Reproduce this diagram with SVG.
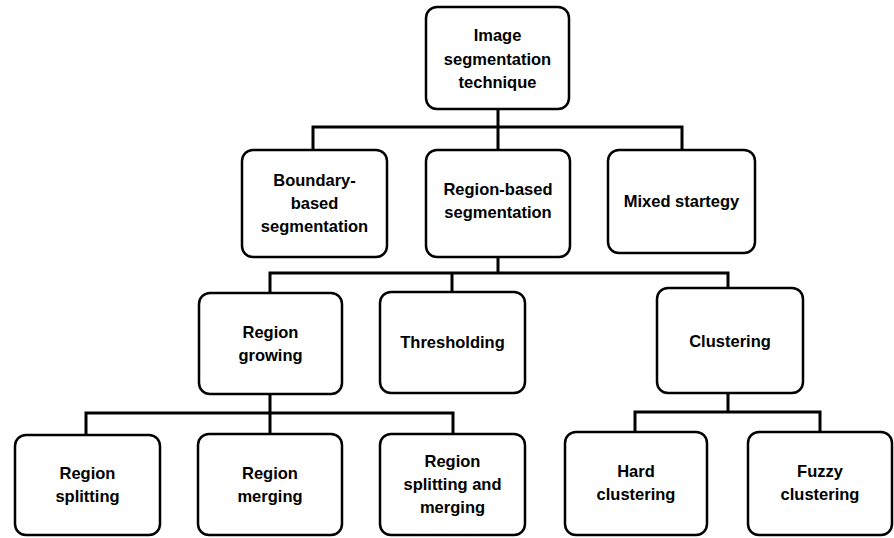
<svg xmlns="http://www.w3.org/2000/svg" width="894" height="538" viewBox="0 0 894 538">
  <style>
    .box { fill: #ffffff; stroke: #000000; stroke-width: 2.5; }
    .lbl { font-family: "Liberation Sans", Arial, sans-serif; font-size: 16.5px; font-weight: bold; fill: #000000; text-anchor: middle; }
    .wire { fill: none; stroke: #000000; stroke-width: 3; stroke-linecap: square; }
  </style>
  <rect x="0" y="0" width="894" height="538" fill="#ffffff"/>

  <!-- tree connectors -->
  <g id="connectors">
    <path class="wire" d="M498 109 V127 M313 127 H682 M313 127 V150 M498 127 V150 M682 127 V150"/>
    <path class="wire" d="M498 257 V273 M270 273 H728 M270 273 V293 M452 273 V292 M728 273 V288"/>
    <path class="wire" d="M270 394 V413 M86 413 H453 M86 413 V435 M270 413 V434 M453 413 V434"/>
    <path class="wire" d="M728 393 V412 M635 412 H820 M635 412 V432 M820 412 V432"/>
  </g>

  <g id="image-segmentation">
    <rect class="box" x="426" y="7" width="143" height="102" rx="11"/>
    <text class="lbl" x="497.5" y="41">Image</text>
    <text class="lbl" x="497.5" y="65">segmentation</text>
    <text class="lbl" x="497.5" y="88">technique</text>
  </g>

  <g id="boundary-based">
    <rect class="box" x="242" y="150" width="145" height="107" rx="11"/>
    <text class="lbl" x="314.5" y="186">Boundary-</text>
    <text class="lbl" x="314.5" y="209">based</text>
    <text class="lbl" x="314.5" y="232">segmentation</text>
  </g>

  <g id="region-based">
    <rect class="box" x="426" y="150" width="144" height="107" rx="11"/>
    <text class="lbl" x="498" y="195">Region-based</text>
    <text class="lbl" x="498" y="218">segmentation</text>
  </g>

  <g id="mixed-strategy">
    <rect class="box" x="608" y="150" width="147" height="103" rx="11"/>
    <text class="lbl" x="681.5" y="207">Mixed startegy</text>
  </g>

  <g id="region-growing">
    <rect class="box" x="199" y="293" width="143" height="101" rx="11"/>
    <text class="lbl" x="270.5" y="338">Region</text>
    <text class="lbl" x="270.5" y="361">growing</text>
  </g>

  <g id="thresholding">
    <rect class="box" x="380" y="292" width="145" height="101" rx="11"/>
    <text class="lbl" x="452.5" y="348">Thresholding</text>
  </g>

  <g id="clustering">
    <rect class="box" x="657" y="288" width="146" height="105" rx="11"/>
    <text class="lbl" x="730" y="347">Clustering</text>
  </g>

  <g id="region-splitting">
    <rect class="box" x="15" y="435" width="145" height="100" rx="11"/>
    <text class="lbl" x="87.5" y="479">Region</text>
    <text class="lbl" x="87.5" y="502">splitting</text>
  </g>

  <g id="region-merging">
    <rect class="box" x="198" y="434" width="144" height="101" rx="11"/>
    <text class="lbl" x="270" y="479">Region</text>
    <text class="lbl" x="270" y="502">merging</text>
  </g>

  <g id="region-splitting-merging">
    <rect class="box" x="380" y="434" width="145" height="101" rx="11"/>
    <text class="lbl" x="452.5" y="467">Region</text>
    <text class="lbl" x="452.5" y="490">splitting and</text>
    <text class="lbl" x="452.5" y="513">merging</text>
  </g>

  <g id="hard-clustering">
    <rect class="box" x="565" y="432" width="142" height="103" rx="11"/>
    <text class="lbl" x="636" y="477">Hard</text>
    <text class="lbl" x="636" y="500">clustering</text>
  </g>

  <g id="fuzzy-clustering">
    <rect class="box" x="748" y="432" width="144" height="103" rx="11"/>
    <text class="lbl" x="820" y="477">Fuzzy</text>
    <text class="lbl" x="820" y="500">clustering</text>
  </g>
</svg>
